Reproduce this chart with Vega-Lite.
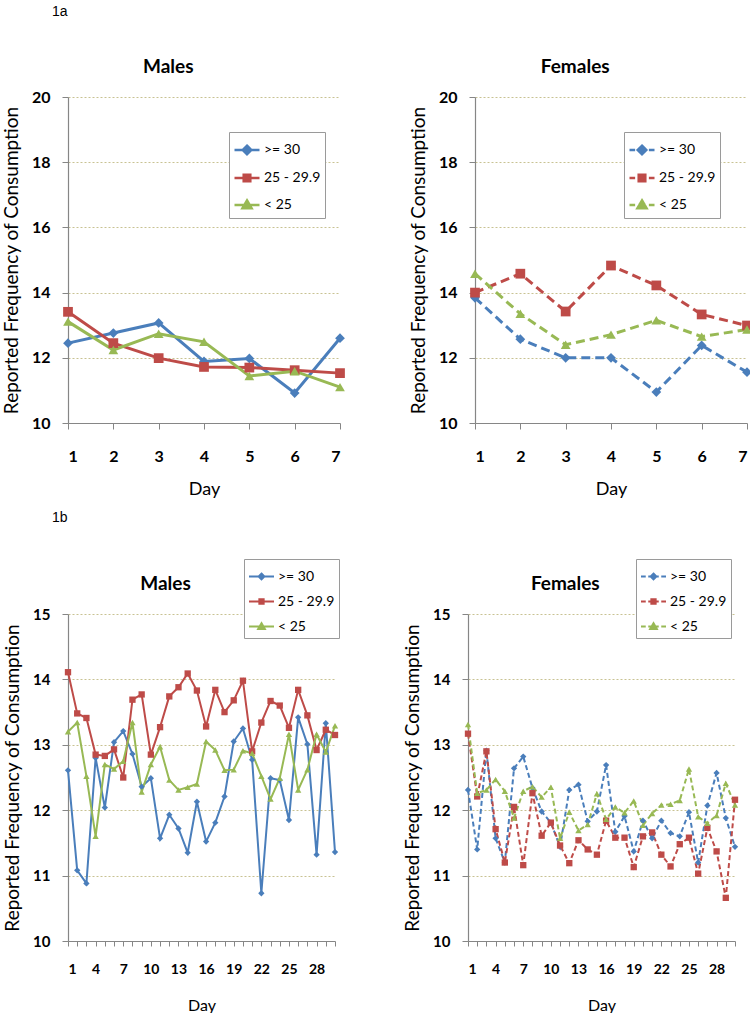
{
  "$schema": "https://vega.github.io/schema/vega-lite/v6.json",
  "padding": {"left": 2, "top": 5, "right": 0, "bottom": 0},
  "background": "white",
  "spacing": 12,
  "datasets": {
    "am": [
      {"day":1,"group":">= 30","value":12.45},{"day":2,"group":">= 30","value":12.76},{"day":3,"group":">= 30","value":13.07},{"day":4,"group":">= 30","value":11.89},{"day":5,"group":">= 30","value":11.98},{"day":6,"group":">= 30","value":10.92},{"day":7,"group":">= 30","value":12.60},
      {"day":1,"group":"25 - 29.9","value":13.41},{"day":2,"group":"25 - 29.9","value":12.45},{"day":3,"group":"25 - 29.9","value":11.99},{"day":4,"group":"25 - 29.9","value":11.72},{"day":5,"group":"25 - 29.9","value":11.70},{"day":6,"group":"25 - 29.9","value":11.62},{"day":7,"group":"25 - 29.9","value":11.53},
      {"day":1,"group":"< 25","value":13.11},{"day":2,"group":"< 25","value":12.24},{"day":3,"group":"< 25","value":12.74},{"day":4,"group":"< 25","value":12.49},{"day":5,"group":"< 25","value":11.44},{"day":6,"group":"< 25","value":11.59},{"day":7,"group":"< 25","value":11.10}
    ],
    "af": [
      {"day":1,"group":">= 30","value":13.84},{"day":2,"group":">= 30","value":12.57},{"day":3,"group":">= 30","value":12.00},{"day":4,"group":">= 30","value":12.00},{"day":5,"group":">= 30","value":10.95},{"day":6,"group":">= 30","value":12.38},{"day":7,"group":">= 30","value":11.56},
      {"day":1,"group":"25 - 29.9","value":14.00},{"day":2,"group":"25 - 29.9","value":14.58},{"day":3,"group":"25 - 29.9","value":13.42},{"day":4,"group":"25 - 29.9","value":14.83},{"day":5,"group":"25 - 29.9","value":14.22},{"day":6,"group":"25 - 29.9","value":13.33},{"day":7,"group":"25 - 29.9","value":12.99},
      {"day":1,"group":"< 25","value":14.58},{"day":2,"group":"< 25","value":13.35},{"day":3,"group":"< 25","value":12.40},{"day":4,"group":"< 25","value":12.71},{"day":5,"group":"< 25","value":13.15},{"day":6,"group":"< 25","value":12.65},{"day":7,"group":"< 25","value":12.87}
    ],
    "bm": [
      {"day":1,"group":">= 30","value":12.61},{"day":2,"group":">= 30","value":11.08},{"day":3,"group":">= 30","value":10.88},{"day":4,"group":">= 30","value":12.80},{"day":5,"group":">= 30","value":12.04},{"day":6,"group":">= 30","value":13.04},{"day":7,"group":">= 30","value":13.21},{"day":8,"group":">= 30","value":12.86},{"day":9,"group":">= 30","value":12.36},{"day":10,"group":">= 30","value":12.49},
      {"day":11,"group":">= 30","value":11.57},{"day":12,"group":">= 30","value":11.93},{"day":13,"group":">= 30","value":11.72},{"day":14,"group":">= 30","value":11.35},{"day":15,"group":">= 30","value":12.13},{"day":16,"group":">= 30","value":11.52},{"day":17,"group":">= 30","value":11.81},{"day":18,"group":">= 30","value":12.21},{"day":19,"group":">= 30","value":13.05},{"day":20,"group":">= 30","value":13.25},
      {"day":21,"group":">= 30","value":12.77},{"day":22,"group":">= 30","value":10.73},{"day":23,"group":">= 30","value":12.49},{"day":24,"group":">= 30","value":12.46},{"day":25,"group":">= 30","value":11.85},{"day":26,"group":">= 30","value":13.42},{"day":27,"group":">= 30","value":13.01},{"day":28,"group":">= 30","value":11.32},{"day":29,"group":">= 30","value":13.33},{"day":30,"group":">= 30","value":11.36},
      {"day":1,"group":"25 - 29.9","value":14.11},{"day":2,"group":"25 - 29.9","value":13.48},{"day":3,"group":"25 - 29.9","value":13.41},{"day":4,"group":"25 - 29.9","value":12.85},{"day":5,"group":"25 - 29.9","value":12.83},{"day":6,"group":"25 - 29.9","value":12.93},{"day":7,"group":"25 - 29.9","value":12.50},{"day":8,"group":"25 - 29.9","value":13.69},{"day":9,"group":"25 - 29.9","value":13.77},{"day":10,"group":"25 - 29.9","value":12.85},
      {"day":11,"group":"25 - 29.9","value":13.27},{"day":12,"group":"25 - 29.9","value":13.74},{"day":13,"group":"25 - 29.9","value":13.88},{"day":14,"group":"25 - 29.9","value":14.09},{"day":15,"group":"25 - 29.9","value":13.83},{"day":16,"group":"25 - 29.9","value":13.28},{"day":17,"group":"25 - 29.9","value":13.84},{"day":18,"group":"25 - 29.9","value":13.50},{"day":19,"group":"25 - 29.9","value":13.68},{"day":20,"group":"25 - 29.9","value":13.98},
      {"day":21,"group":"25 - 29.9","value":12.90},{"day":22,"group":"25 - 29.9","value":13.34},{"day":23,"group":"25 - 29.9","value":13.67},{"day":24,"group":"25 - 29.9","value":13.60},{"day":25,"group":"25 - 29.9","value":13.26},{"day":26,"group":"25 - 29.9","value":13.84},{"day":27,"group":"25 - 29.9","value":13.45},{"day":28,"group":"25 - 29.9","value":12.92},{"day":29,"group":"25 - 29.9","value":13.23},{"day":30,"group":"25 - 29.9","value":13.15},
      {"day":1,"group":"< 25","value":13.20},{"day":2,"group":"< 25","value":13.34},{"day":3,"group":"< 25","value":12.52},{"day":4,"group":"< 25","value":11.60},{"day":5,"group":"< 25","value":12.70},{"day":6,"group":"< 25","value":12.63},{"day":7,"group":"< 25","value":12.75},{"day":8,"group":"< 25","value":13.34},{"day":9,"group":"< 25","value":12.28},{"day":10,"group":"< 25","value":12.70},
      {"day":11,"group":"< 25","value":12.97},{"day":12,"group":"< 25","value":12.46},{"day":13,"group":"< 25","value":12.31},{"day":14,"group":"< 25","value":12.35},{"day":15,"group":"< 25","value":12.40},{"day":16,"group":"< 25","value":13.05},{"day":17,"group":"< 25","value":12.92},{"day":18,"group":"< 25","value":12.61},{"day":19,"group":"< 25","value":12.62},{"day":20,"group":"< 25","value":12.91},
      {"day":21,"group":"< 25","value":12.87},{"day":22,"group":"< 25","value":12.52},{"day":23,"group":"< 25","value":12.17},{"day":24,"group":"< 25","value":12.49},{"day":25,"group":"< 25","value":13.16},{"day":26,"group":"< 25","value":12.31},{"day":27,"group":"< 25","value":12.62},{"day":28,"group":"< 25","value":13.16},{"day":29,"group":"< 25","value":12.89},{"day":30,"group":"< 25","value":13.29}
    ],
    "bf": [
      {"day":1,"group":">= 30","value":12.31},{"day":2,"group":">= 30","value":11.40},{"day":3,"group":">= 30","value":12.91},{"day":4,"group":">= 30","value":11.57},{"day":5,"group":">= 30","value":11.20},{"day":6,"group":">= 30","value":12.64},{"day":7,"group":">= 30","value":12.82},{"day":8,"group":">= 30","value":12.34},{"day":9,"group":">= 30","value":11.98},{"day":10,"group":">= 30","value":11.81},
      {"day":11,"group":">= 30","value":11.44},{"day":12,"group":">= 30","value":12.31},{"day":13,"group":">= 30","value":12.39},{"day":14,"group":">= 30","value":11.83},{"day":15,"group":">= 30","value":11.98},{"day":16,"group":">= 30","value":12.69},{"day":17,"group":">= 30","value":11.67},{"day":18,"group":">= 30","value":11.91},{"day":19,"group":">= 30","value":11.37},{"day":20,"group":">= 30","value":11.84},
      {"day":21,"group":">= 30","value":11.57},{"day":22,"group":">= 30","value":11.84},{"day":23,"group":">= 30","value":11.65},{"day":24,"group":">= 30","value":11.60},{"day":25,"group":">= 30","value":11.97},{"day":26,"group":">= 30","value":11.20},{"day":27,"group":">= 30","value":12.07},{"day":28,"group":">= 30","value":12.57},{"day":29,"group":">= 30","value":11.88},{"day":30,"group":">= 30","value":11.44},
      {"day":1,"group":"25 - 29.9","value":13.17},{"day":2,"group":"25 - 29.9","value":12.21},{"day":3,"group":"25 - 29.9","value":12.90},{"day":4,"group":"25 - 29.9","value":11.71},{"day":5,"group":"25 - 29.9","value":11.20},{"day":6,"group":"25 - 29.9","value":12.05},{"day":7,"group":"25 - 29.9","value":11.16},{"day":8,"group":"25 - 29.9","value":12.26},{"day":9,"group":"25 - 29.9","value":11.61},{"day":10,"group":"25 - 29.9","value":11.81},
      {"day":11,"group":"25 - 29.9","value":11.46},{"day":12,"group":"25 - 29.9","value":11.19},{"day":13,"group":"25 - 29.9","value":11.54},{"day":14,"group":"25 - 29.9","value":11.40},{"day":15,"group":"25 - 29.9","value":11.32},{"day":16,"group":"25 - 29.9","value":11.84},{"day":17,"group":"25 - 29.9","value":11.58},{"day":18,"group":"25 - 29.9","value":11.58},{"day":19,"group":"25 - 29.9","value":11.13},{"day":20,"group":"25 - 29.9","value":11.60},
      {"day":21,"group":"25 - 29.9","value":11.66},{"day":22,"group":"25 - 29.9","value":11.32},{"day":23,"group":"25 - 29.9","value":11.14},{"day":24,"group":"25 - 29.9","value":11.48},{"day":25,"group":"25 - 29.9","value":11.58},{"day":26,"group":"25 - 29.9","value":11.03},{"day":27,"group":"25 - 29.9","value":11.73},{"day":28,"group":"25 - 29.9","value":11.37},{"day":29,"group":"25 - 29.9","value":10.66},{"day":30,"group":"25 - 29.9","value":12.16},
      {"day":1,"group":"< 25","value":13.31},{"day":2,"group":"< 25","value":12.26},{"day":3,"group":"< 25","value":12.31},{"day":4,"group":"< 25","value":12.47},{"day":5,"group":"< 25","value":12.29},{"day":6,"group":"< 25","value":11.88},{"day":7,"group":"< 25","value":12.29},{"day":8,"group":"< 25","value":12.36},{"day":9,"group":"< 25","value":12.20},{"day":10,"group":"< 25","value":12.35},
      {"day":11,"group":"< 25","value":11.57},{"day":12,"group":"< 25","value":11.97},{"day":13,"group":"< 25","value":11.69},{"day":14,"group":"< 25","value":11.78},{"day":15,"group":"< 25","value":12.25},{"day":16,"group":"< 25","value":11.86},{"day":17,"group":"< 25","value":12.05},{"day":18,"group":"< 25","value":11.96},{"day":19,"group":"< 25","value":12.14},{"day":20,"group":"< 25","value":11.77},
      {"day":21,"group":"< 25","value":11.95},{"day":22,"group":"< 25","value":12.08},{"day":23,"group":"< 25","value":12.09},{"day":24,"group":"< 25","value":12.15},{"day":25,"group":"< 25","value":12.63},{"day":26,"group":"< 25","value":11.90},{"day":27,"group":"< 25","value":11.80},{"day":28,"group":"< 25","value":11.92},{"day":29,"group":"< 25","value":12.41},{"day":30,"group":"< 25","value":12.08}
    ]
  },
  "resolve": {"scale": {"color": "independent", "shape": "independent"}, "legend": {"color": "independent", "shape": "independent"}},
  "vconcat": [
    {
      "title": {"text": "1a", "font": "Liberation Sans", "fontSize": 14, "fontWeight": "normal", "color": "black", "anchor": "start", "frame": "group", "offset": 39, "dx": -16},
      "spacing": 63,
      "resolve": {"scale": {"color": "independent", "shape": "independent"}, "legend": {"color": "independent", "shape": "independent"}},
      "hconcat": [
        {
          "width": 272, "height": 326,
          "title": {"text": "Males", "font": "Lato", "fontSize": 19, "fontWeight": "bold", "color": "black", "anchor": "middle", "frame": "bounds", "offset": 12, "dx": -6},
          "data": {"name": "am"},
          "encoding": {
            "x": {"field": "day", "type": "quantitative", "scale": {"domain": [1, 7], "nice": false, "zero": false},
                  "axis": {"values": [1,2,3,4,5,6,7], "format": "d", "title": "Day", "labelFontSize": 16, "titleFontSize": 18, "tickSize": 6, "labelPadding": 19, "titlePadding": 16, "grid": false}},
            "y": {"field": "value", "type": "quantitative", "scale": {"domain": [10, 20], "nice": false, "zero": false},
                  "axis": {"values": [10,12,14,16,18,20], "title": "Reported Frequency of Consumption", "labelFontSize": 16, "titleFontSize": 19, "tickSize": 6, "labelPadding": 12, "titlePadding": 10, "grid": true}},
            "color": {"field": "group", "type": "nominal", "scale": {"domain": [">= 30", "25 - 29.9", "< 25"], "range": ["#4A7EBB", "#BE4B48", "#98B954"]},
                      "legend": {"orient": "none", "legendX": 161, "legendY": 35,
                                 "encode": {"symbols": {"update": {
                                   "shape": {"signal": "datum.value === '>= 30' ? 'M-1,0H1M0,-0.34L0.34,0L0,0.34L-0.34,0Z' : datum.value === '25 - 29.9' ? 'M-1,0H1M-0.26,-0.26H0.26V0.26H-0.26Z' : 'M-1,0H1M0,-0.36L0.36,0.26L-0.36,0.26Z'"},
                                   "fill": {"signal": "datum.value === '>= 30' ? '#4A7EBB' : datum.value === '25 - 29.9' ? '#BE4B48' : '#98B954'"},
                                   "stroke": {"signal": "datum.value === '>= 30' ? '#4A7EBB' : datum.value === '25 - 29.9' ? '#BE4B48' : '#98B954'"},
                                   "strokeWidth": {"value": 2.6},
                                   "opacity": {"value": 1}}}}}}
          },
          "layer": [
            {"mark": {"type": "line", "strokeWidth": 3}},
            {"mark": {"type": "point", "filled": true, "opacity": 1, "size": 95},
             "encoding": {"shape": {"field": "group", "type": "nominal", "scale": {"domain": [">= 30", "< 25", "25 - 29.9"], "range": ["diamond", "triangle-up", "square"]}, "legend": null}}}
          ]
        },
        {
          "width": 272, "height": 326,
          "title": {"text": "Females", "font": "Lato", "fontSize": 19, "fontWeight": "bold", "color": "black", "anchor": "middle", "frame": "bounds", "offset": 12, "dx": -6},
          "data": {"name": "af"},
          "encoding": {
            "x": {"field": "day", "type": "quantitative", "scale": {"domain": [1, 7], "nice": false, "zero": false},
                  "axis": {"values": [1,2,3,4,5,6,7], "format": "d", "title": "Day", "labelFontSize": 16, "titleFontSize": 18, "tickSize": 6, "labelPadding": 19, "titlePadding": 16, "grid": false}},
            "y": {"field": "value", "type": "quantitative", "scale": {"domain": [10, 20], "nice": false, "zero": false},
                  "axis": {"values": [10,12,14,16,18,20], "title": "Reported Frequency of Consumption", "labelFontSize": 16, "titleFontSize": 19, "tickSize": 6, "labelPadding": 12, "titlePadding": 10, "grid": true}},
            "color": {"field": "group", "type": "nominal", "scale": {"domain": [">= 30", "25 - 29.9", "< 25"], "range": ["#4A7EBB", "#BE4B48", "#98B954"]},
                      "legend": {"orient": "none", "legendX": 149, "legendY": 35,
                                 "encode": {"symbols": {"update": {
                                   "shape": {"signal": "datum.value === '>= 30' ? 'M-1,0H-0.55M-0.3,0H0.3M0.55,0H1M0,-0.34L0.34,0L0,0.34L-0.34,0Z' : datum.value === '25 - 29.9' ? 'M-1,0H-0.55M-0.3,0H0.3M0.55,0H1M-0.26,-0.26H0.26V0.26H-0.26Z' : 'M-1,0H-0.55M-0.3,0H0.3M0.55,0H1M0,-0.36L0.36,0.26L-0.36,0.26Z'"},
                                   "fill": {"signal": "datum.value === '>= 30' ? '#4A7EBB' : datum.value === '25 - 29.9' ? '#BE4B48' : '#98B954'"},
                                   "stroke": {"signal": "datum.value === '>= 30' ? '#4A7EBB' : datum.value === '25 - 29.9' ? '#BE4B48' : '#98B954'"},
                                   "strokeWidth": {"value": 2.6},
                                   "opacity": {"value": 1}}}}}}
          },
          "layer": [
            {"mark": {"type": "line", "strokeWidth": 3, "strokeDash": [9, 5]}},
            {"mark": {"type": "point", "filled": true, "opacity": 1, "size": 95},
             "encoding": {"shape": {"field": "group", "type": "nominal", "scale": {"domain": [">= 30", "< 25", "25 - 29.9"], "range": ["diamond", "triangle-up", "square"]}, "legend": null}}}
          ]
        }
      ]
    },
    {
      "title": {"text": "1b", "font": "Liberation Sans", "fontSize": 14, "fontWeight": "normal", "color": "black", "anchor": "start", "frame": "group", "offset": 34, "dx": -16},
      "spacing": 63,
      "resolve": {"scale": {"color": "independent", "shape": "independent"}, "legend": {"color": "independent", "shape": "independent"}},
      "hconcat": [
        {
          "width": 267, "height": 327,
          "title": {"text": "Males", "font": "Lato", "fontSize": 19, "fontWeight": "bold", "color": "black", "anchor": "middle", "frame": "bounds", "offset": -35, "dx": -6},
          "data": {"name": "bm"},
          "encoding": {
            "x": {"field": "day", "type": "quantitative", "scale": {"domain": [1, 30], "nice": false, "zero": false},
                  "axis": {"values": [1,2,3,4,5,6,7,8,9,10,11,12,13,14,15,16,17,18,19,20,21,22,23,24,25,26,27,28,29,30], "labelExpr": "datum.value % 3 === 1 ? datum.label : ''", "title": "Day", "labelFontSize": 14, "titleFontSize": 16, "tickSize": 5, "labelPadding": 16, "titlePadding": 21, "grid": false}},
            "y": {"field": "value", "type": "quantitative", "scale": {"domain": [10, 15], "nice": false, "zero": false},
                  "axis": {"values": [10,11,12,13,14,15], "title": "Reported Frequency of Consumption", "labelFontSize": 15, "titleFontSize": 19, "tickSize": 6, "labelPadding": 12, "titlePadding": 10, "grid": true}},
            "color": {"field": "group", "type": "nominal", "scale": {"domain": [">= 30", "25 - 29.9", "< 25"], "range": ["#4A7EBB", "#BE4B48", "#98B954"]},
                      "legend": {"orient": "none", "legendX": 176, "legendY": -55,
                                 "encode": {"symbols": {"update": {
                                   "shape": {"signal": "datum.value === '>= 30' ? 'M-1,0H1M0,-0.24L0.24,0L0,0.24L-0.24,0Z' : datum.value === '25 - 29.9' ? 'M-1,0H1M-0.18,-0.18H0.18V0.18H-0.18Z' : 'M-1,0H1M0,-0.28L0.28,0.2L-0.28,0.2Z'"},
                                   "fill": {"signal": "datum.value === '>= 30' ? '#4A7EBB' : datum.value === '25 - 29.9' ? '#BE4B48' : '#98B954'"},
                                   "stroke": {"signal": "datum.value === '>= 30' ? '#4A7EBB' : datum.value === '25 - 29.9' ? '#BE4B48' : '#98B954'"},
                                   "strokeWidth": {"value": 1.8},
                                   "opacity": {"value": 1}}}}}}
          },
          "layer": [
            {"mark": {"type": "line", "strokeWidth": 2}},
            {"mark": {"type": "point", "filled": true, "opacity": 1, "size": 40},
             "encoding": {"shape": {"field": "group", "type": "nominal", "scale": {"domain": [">= 30", "< 25", "25 - 29.9"], "range": ["diamond", "triangle-up", "square"]}, "legend": null}}}
          ]
        },
        {
          "width": 267, "height": 327,
          "title": {"text": "Females", "font": "Lato", "fontSize": 19, "fontWeight": "bold", "color": "black", "anchor": "middle", "frame": "bounds", "offset": -35, "dx": -6},
          "data": {"name": "bf"},
          "encoding": {
            "x": {"field": "day", "type": "quantitative", "scale": {"domain": [1, 30], "nice": false, "zero": false},
                  "axis": {"values": [1,2,3,4,5,6,7,8,9,10,11,12,13,14,15,16,17,18,19,20,21,22,23,24,25,26,27,28,29,30], "labelExpr": "datum.value % 3 === 1 ? datum.label : ''", "title": "Day", "labelFontSize": 14, "titleFontSize": 16, "tickSize": 5, "labelPadding": 16, "titlePadding": 21, "grid": false}},
            "y": {"field": "value", "type": "quantitative", "scale": {"domain": [10, 15], "nice": false, "zero": false},
                  "axis": {"values": [10,11,12,13,14,15], "title": "Reported Frequency of Consumption", "labelFontSize": 15, "titleFontSize": 19, "tickSize": 6, "labelPadding": 12, "titlePadding": 10, "grid": true}},
            "color": {"field": "group", "type": "nominal", "scale": {"domain": [">= 30", "25 - 29.9", "< 25"], "range": ["#4A7EBB", "#BE4B48", "#98B954"]},
                      "legend": {"orient": "none", "legendX": 168, "legendY": -55,
                                 "encode": {"symbols": {"update": {
                                   "shape": {"signal": "datum.value === '>= 30' ? 'M-1,0H-0.62M-0.42,0H0.42M0.62,0H1M0,-0.24L0.24,0L0,0.24L-0.24,0Z' : datum.value === '25 - 29.9' ? 'M-1,0H-0.62M-0.42,0H0.42M0.62,0H1M-0.18,-0.18H0.18V0.18H-0.18Z' : 'M-1,0H-0.62M-0.42,0H0.42M0.62,0H1M0,-0.28L0.28,0.2L-0.28,0.2Z'"},
                                   "fill": {"signal": "datum.value === '>= 30' ? '#4A7EBB' : datum.value === '25 - 29.9' ? '#BE4B48' : '#98B954'"},
                                   "stroke": {"signal": "datum.value === '>= 30' ? '#4A7EBB' : datum.value === '25 - 29.9' ? '#BE4B48' : '#98B954'"},
                                   "strokeWidth": {"value": 1.8},
                                   "opacity": {"value": 1}}}}}}
          },
          "layer": [
            {"mark": {"type": "line", "strokeWidth": 2, "strokeDash": [5, 3]}},
            {"mark": {"type": "point", "filled": true, "opacity": 1, "size": 40},
             "encoding": {"shape": {"field": "group", "type": "nominal", "scale": {"domain": [">= 30", "< 25", "25 - 29.9"], "range": ["diamond", "triangle-up", "square"]}, "legend": null}}}
          ]
        }
      ]
    }
  ],
  "config": {
    "font": "Lato",
    "view": {"stroke": null},
    "axis": {
      "domainColor": "#868686", "tickColor": "#868686", "domainWidth": 1.2,
      "labelFont": "Lato", "labelFontWeight": "bold", "labelColor": "black",
      "titleFont": "Lato", "titleFontWeight": "normal", "titleColor": "black",
      "gridColor": "#c8c292", "gridDash": [2, 2], "gridWidth": 1
    },
    "legend": {
      "title": null,
      "symbolSize": 625, "symbolStrokeWidth": 2.5, "symbolOpacity": 1,
      "labelFont": "Lato", "labelFontSize": 14, "labelColor": "black", "labelOffset": 3, "labelLimit": 200,
      "padding": 4, "rowPadding": 4,
      "strokeColor": "#9a9a9a", "fillColor": "white", "cornerRadius": 0
    }
  }
}
